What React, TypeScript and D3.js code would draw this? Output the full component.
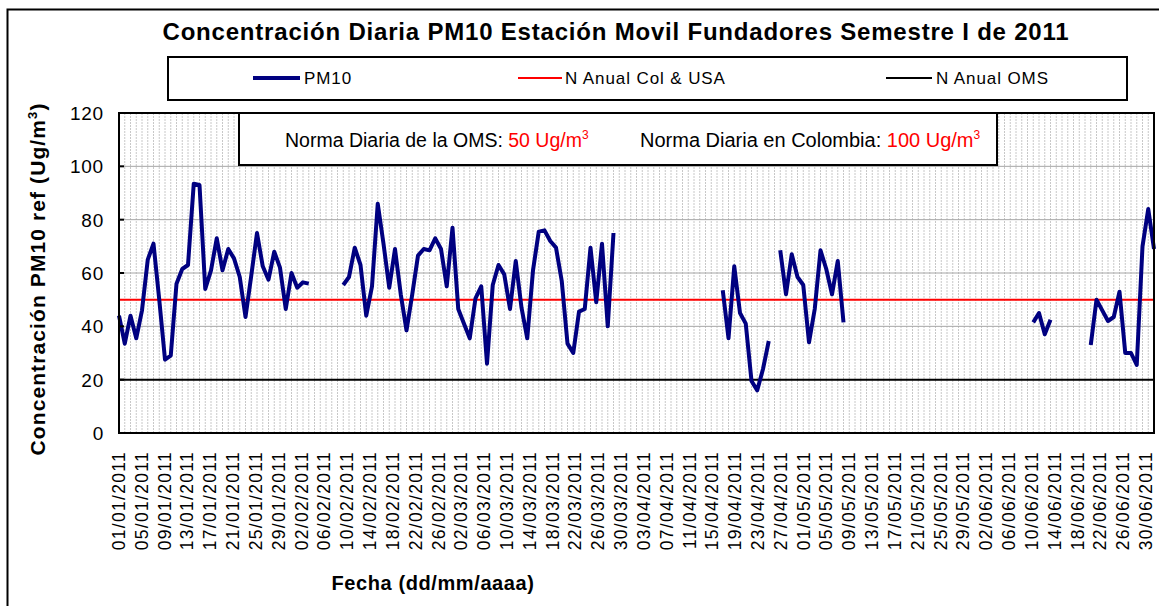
import React from "react";
import * as d3 from "d3";

const title = "Concentración Diaria PM10 Estación Movil Fundadores Semestre I de 2011";
const yTicks = [0, 20, 40, 60, 80, 100, 120];
const startDate = new Date(2011, 0, 1);
const dayCount = 181;
const labelStep = 4;
const normaColUsa = 50;
const normaOms = 20;

// PM10 daily values, index = day since 01/01/2011 (null = no data)
const pm10: (number | null)[] = [
  44, 33.5, 44, 35.5, 46, 65, 71, 50, 27.5, 29,
  56, 61.5, 63, 93.5, 93, 54, 61, 73, 61, 69,
  65.5, 58.5, 43.5, 59, 75, 62.5, 57.5, 68, 62, 46.5,
  60, 54.5, 56.5, 56, null, null, null, null, null, 55.5,
  58.5, 69.5, 63, 44, 55, 86, 71, 54.5, 69, 52,
  38.5, 52, 66.5, 69, 68.5, 73, 69, 55, 77, 46.5,
  41, 35.5, 50.5, 55, 26, 55.5, 63, 59.5, 46.5, 64.5,
  47, 35.5, 61, 75.5, 76, 72, 69.5, 57, 33.5, 30,
  45.5, 46.5, 69.5, 49, 71, 40, 75, null, null, null,
  null, null, null, null, null, null, null, null, null, null,
  null, null, null, null, null, 53.5, 35.5, 62.5, 45, 41,
  19.5, 16, 24, 34.5, null, 68.5, 52, 67, 58.5, 55.5,
  34, 46.5, 68.5, 61.5, 52, 64.5, 41.5, null, null, null,
  null, null, null, null, null, null, null, null, null, null,
  null, null, null, null, null, null, null, null, null, null,
  null, null, null, null, null, null, null, null, null, 41.5,
  45, 37, 42.5, null, null, null, null, null, null, 33,
  50, 46, 42, 43.5, 53, 30, 30, 25.5, 70, 84,
  69,
];

const W = 1159;
const H = 606;
const plot = { left: 119, right: 1154, top: 113, bottom: 433 };

function fmt(d: Date) {
  return d3.timeFormat("%d/%m/%Y")(d);
}

export default function App() {
  const x = d3.scaleLinear().domain([0, dayCount - 1]).range([plot.left, plot.right]);
  const xLabel = d3.scaleLinear().domain([0, dayCount - 1]).range([plot.left + 6, plot.right - 2]);
  const y = d3.scaleLinear().domain([0, 120]).range([plot.bottom, plot.top]);
  const line = d3
    .line<number | null>()
    .defined((d) => d !== null)
    .x((_, i) => x(i))
    .y((d) => y(d as number));
  const days = d3.range(dayCount);
  const labelDays = days.filter((i) => i % labelStep === 0);
  const font = "'Liberation Sans', Arial, sans-serif";

  return (
    <svg width={W} height={H} style={{ position: "absolute", left: 0, top: 0, background: "#fff" }} fontFamily={font}>
      <rect x={7.5} y={9.5} width={1165} height={620} fill="#fff" stroke="#000" strokeWidth={2} />
      <text x={616} y={40} textAnchor="middle" fontWeight="bold" fontSize={24} letterSpacing={0.8}>
        {title}
      </text>
      {/* legend */}
      <rect x={168} y={57} width={959} height={43} fill="#fff" stroke="#000" strokeWidth={2} />
      <line x1={253} x2={300} y1={78} y2={78} stroke="#000080" strokeWidth={4} />
      <text x={304} y={84} fontSize={17} letterSpacing={0.9}>PM10</text>
      <line x1={518} x2={562} y1={78} y2={78} stroke="#ff0000" strokeWidth={2} />
      <text x={565} y={84} fontSize={17} letterSpacing={0.9}>N Anual Col &amp; USA</text>
      <line x1={886} x2={932} y1={78} y2={78} stroke="#000" strokeWidth={2} />
      <text x={936} y={84} fontSize={17} letterSpacing={0.9}>N Anual OMS</text>

      {/* vertical day grid */}
      {days.map((i) => (
        <line key={i} x1={x(i)} x2={x(i)} y1={plot.top} y2={plot.bottom} stroke="#c8c8c8" strokeWidth={1} strokeDasharray="2,1" />
      ))}
      {yTicks.filter((t) => t > 0 && t < 120).map((t) => (
        <line key={t} x1={plot.left} x2={plot.right} y1={y(t)} y2={y(t)} stroke="#a6a6a6" strokeWidth={1} />
      ))}
      <line x1={plot.left} x2={plot.right} y1={y(normaColUsa)} y2={y(normaColUsa)} stroke="#ff0000" strokeWidth={2} />
      <line x1={plot.left} x2={plot.right} y1={y(normaOms)} y2={y(normaOms)} stroke="#000" strokeWidth={2} />
      <path d={line(pm10) || ""} fill="none" stroke="#000080" strokeWidth={4} strokeLinejoin="round" />
      <rect x={plot.left} y={plot.top} width={plot.right - plot.left} height={plot.bottom - plot.top} fill="none" stroke="#000" strokeWidth={2} />
      {yTicks.map((t) => (
        <g key={t}>
          <line x1={plot.left} x2={plot.left + 5} y1={y(t)} y2={y(t)} stroke="#000" strokeWidth={2} />
          <text x={104} y={y(t)} dy="0.36em" textAnchor="end" fontSize={19} letterSpacing={0.8}>{t}</text>
        </g>
      ))}

      {/* annotation box */}
      <rect x={239} y={plot.top} width={758} height={52} fill="#fff" stroke="#000" strokeWidth={2} />
      <text x={285} y={147} fontSize={19.5}>
        Norma Diaria de la OMS: <tspan fill="#ff0000">50 Ug/m</tspan>
        <tspan fill="#ff0000" fontSize={12} dy={-8}>3</tspan>
      </text>
      <text x={640} y={147} fontSize={20}>
        Norma Diaria en Colombia: <tspan fill="#ff0000">100 Ug/m</tspan>
        <tspan fill="#ff0000" fontSize={12} dy={-8}>3</tspan>
      </text>

      {/* x labels */}
      {labelDays.map((i) => (
        <text key={i} transform={`translate(${xLabel(i)},451) rotate(-90)`} textAnchor="end" fontSize={17.5} letterSpacing={1.3}>
          {fmt(d3.timeDay.offset(startDate, i))}
        </text>
      ))}
      <text x={433} y={590} textAnchor="middle" fontWeight="bold" fontSize={20} letterSpacing={0.6}>Fecha (dd/mm/aaaa)</text>
      <text transform="translate(45,279) rotate(-90)" textAnchor="middle" fontWeight="bold" fontSize={21} letterSpacing={1.1}>
        Concentración PM10 ref (Ug/m<tspan fontSize={13} dy={-8}>3</tspan><tspan dy={8}>)</tspan>
      </text>
    </svg>
  );
}
